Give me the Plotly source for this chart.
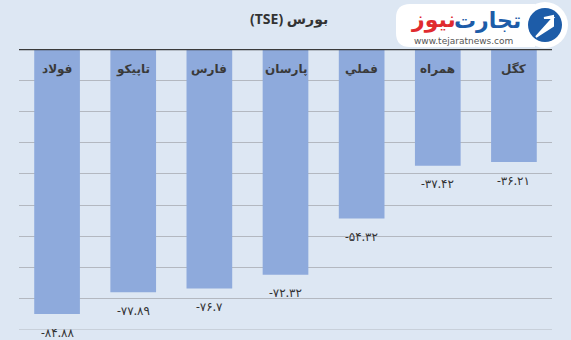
import plotly.graph_objects as go

categories = ["فولاد", "تاپیکو", "فارس", "پارسان", "فملي", "همراه", "کگل"]
values = [-84.88, -77.89, -76.7, -72.32, -54.32, -37.42, -36.21]
title_text = "(TSE) بورس"

W, H = 571, 340
L, R, T, B = 19, 19, 49, 10
PW, PH = W - L - R, H - T - B

def px(x):
    return (x - L) / PW

def py(y):
    return 1 - (y - T) / PH

PERSIAN = str.maketrans("0123456789", "۰۱۲۳۴۵۶۷۸۹")

def fmt(v):
    s = f"{v:.2f}".rstrip("0").rstrip(".")
    return s.translate(PERSIAN)

bg = "#dde7f3"
bar_color = "#8eaadc"
font_fam = "Noto Sans, DejaVu Sans, sans-serif"

fig = go.Figure()
fig.add_trace(go.Bar(
    x=categories, y=values,
    marker=dict(color=bar_color, line=dict(width=0)),
    width=0.6, hoverinfo="skip",
))

annotations = []
for c, v in zip(categories, values):
    annotations.append(dict(
        x=c, y=0, xref="x", yref="y", text=f"<b>{c}</b>", showarrow=False,
        yanchor="top", yshift=-9, font=dict(size=12, color="#3a3a3a", family=font_fam)))
    annotations.append(dict(
        x=c, y=v, xref="x", yref="y", text=fmt(v), showarrow=False,
        yanchor="middle", yshift=-18, font=dict(size=12, color="#333333", family=font_fam)))

# title
annotations.append(dict(
    x=px(289), y=py(18), xref="paper", yref="paper", text=f"<b>{title_text}</b>",
    showarrow=False, xanchor="center", yanchor="middle",
    font=dict(size=14, color="#333333", family=font_fam)))

# logo texts
annotations.append(dict(
    x=px(523), y=py(20), xref="paper", yref="paper", xanchor="right", yanchor="middle",
    text="<b>تجارت</b>", showarrow=False,
    font=dict(size=22, color="#1d5ca8", family="DejaVu Sans")))
annotations.append(dict(
    x=px(458), y=py(20), xref="paper", yref="paper", xanchor="right", yanchor="middle",
    text="<b>نیوز</b>", showarrow=False,
    font=dict(size=22, color="#e02a2f", family="DejaVu Sans")))
annotations.append(dict(
    x=px(463), y=py(41), xref="paper", yref="paper", xanchor="center", yanchor="middle",
    text="www.tejaratnews.com", showarrow=False,
    font=dict(size=9, color="#555555", family="DejaVu Sans")))

shapes = [
    # bottom gridline
    dict(type="line", xref="paper", yref="y", x0=0, x1=1, y0=-90, y1=-90,
         line=dict(color="#b3b8c0", width=1), layer="below"),
    # top axis line
    dict(type="line", xref="paper", yref="y", x0=0, x1=1, y0=0, y1=0,
         line=dict(color="#3a3a3a", width=2.5), layer="above"),
    # logo pill
    dict(type="path", xref="paper", yref="paper",
         path=(f"M {px(410)},{py(4)} L {px(535)},{py(4)} L {px(535)},{py(47)} "
               f"L {px(410)},{py(47)} Q {px(396)},{py(47)} {px(396)},{py(33)} "
               f"L {px(396)},{py(18)} Q {px(396)},{py(4)} {px(410)},{py(4)} Z"),
         fillcolor="white", line=dict(width=0), layer="above"),
    dict(type="circle", xref="paper", yref="paper",
         x0=px(522), x1=px(568), y0=py(2), y1=py(48),
         fillcolor="white", line=dict(width=0), layer="above"),
    dict(type="circle", xref="paper", yref="paper",
         x0=px(528), x1=px(562), y0=py(8), y1=py(42),
         fillcolor="#1d5ca8", line=dict(width=0), layer="above"),
    dict(type="path", xref="paper", yref="paper",
         path=(f"M {px(536)},{py(37)} L {px(553)},{py(18)} L {px(544)},{py(18)} "
               f"L {px(553)},{py(16)} L {px(553)},{py(26)} Z"),
         fillcolor="white", line=dict(color="white", width=2), layer="above"),
]

fig.update_layout(
    width=W, height=H,
    margin=dict(l=L, r=R, t=T, b=B),
    paper_bgcolor=bg, plot_bgcolor=bg,
    showlegend=False,
    bargap=0.4,
    xaxis=dict(showticklabels=False, showgrid=False, zeroline=False, showline=False,
               ticks="", fixedrange=True),
    yaxis=dict(range=[-90, 0], dtick=10, tick0=0, showticklabels=False,
               showgrid=True, gridcolor="#b3b8c0", gridwidth=1,
               zeroline=False, showline=False, ticks="", fixedrange=True),
    annotations=annotations,
    shapes=shapes,
)

fig.write_html("out.html")
